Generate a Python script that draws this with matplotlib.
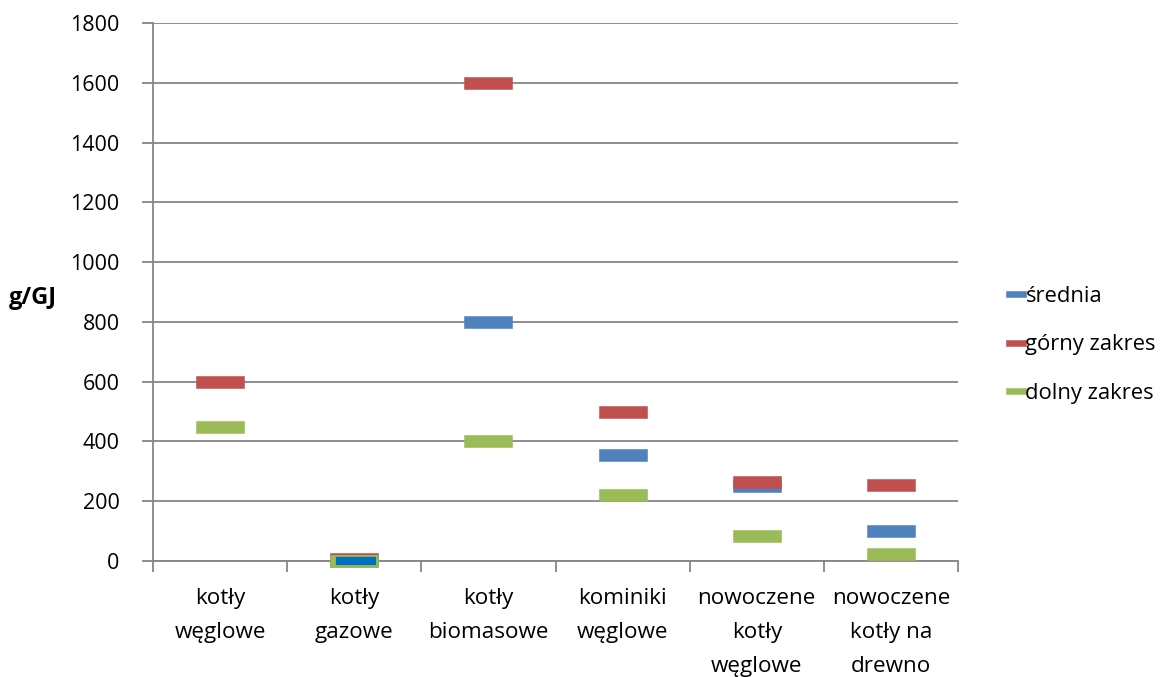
import numpy as np
import matplotlib
matplotlib.use("Agg")
import matplotlib.pyplot as plt
from matplotlib.path import Path

plt.rcParams['font.family'] = ['Open Sans', 'DejaVu Sans']

categories = ["kotły\nwęglowe", "kotły\ngazowe", "kotły\nbiomasowe",
              "kominiki\nwęglowe", "nowoczene\nkotły\nwęglowe",
              "nowoczene\nkotły na\ndrewno"]
srednia = [np.nan, 0, 800, 355, 252, 100]
gorny_zakres = [600, 8, 1600, 500, 263, 255]
dolny_zakres = [450, 0, 400, 220, 82, 25]
yticks = [0, 200, 400, 600, 800, 1000, 1200, 1400, 1600, 1800]

BLUE = "#4F81BD"
RED = "#C0504D"
GREEN = "#9BBB59"
GRID = "#868686"

W, H = 1162, 677
fig = plt.figure(figsize=(W / 100, H / 100), dpi=100)
ax = fig.add_axes([153 / W, 1 - 561 / H, (958 - 153) / W, (561 - 23) / H])

# flat dash marker (4:1 rectangle)
dash = Path([(-2, -0.5), (2, -0.5), (2, 0.5), (-2, 0.5), (-2, -0.5)],
            [Path.MOVETO, Path.LINETO, Path.LINETO, Path.LINETO, Path.CLOSEPOLY])

x = np.arange(len(categories))
ms = 34.5
ax.plot(x, srednia, ls='none', marker=dash, ms=ms, mfc=BLUE, mec=BLUE,
        mew=0.4, zorder=3, clip_on=False, label="średnia")
ax.plot(x, gorny_zakres, ls='none', marker=dash, ms=ms, mfc=RED, mec=RED,
        mew=0.4, zorder=4, clip_on=False, label="górny zakres")
ax.plot(x, dolny_zakres, ls='none', marker=dash, ms=ms, mfc=GREEN, mec=GREEN,
        mew=0.4, zorder=5, clip_on=False, label="dolny zakres")
# the gas boilers' mean point uses its own fill with a green border
ax.plot(x[1:2] + 0.01, srednia[1:2], ls='none', marker=dash, ms=ms - 4,
        mfc="#0070C0", mec=GREEN, mew=1.3, zorder=6, clip_on=False)

ax.set_xlim(-0.5, len(categories) - 0.5)
ax.set_ylim(0, 1800)
ax.set_yticks(yticks)
ax.set_yticklabels([str(v) for v in yticks])
ax.yaxis.grid(True, color=GRID, lw=1.3)
ax.set_axisbelow(True)

ax.set_xticks(np.arange(len(categories) + 1) - 0.5)
ax.set_xticklabels([])
ax.set_xticks(x, minor=True)
ax.set_xticklabels(categories, minor=True, fontsize=16.2, linespacing=1.8)
ax.tick_params(axis='x', which='minor', length=0, pad=19.5)
ax.tick_params(axis='x', which='major', length=8, width=1.3, color=GRID,
               direction='out')
ax.tick_params(axis='y', length=8, width=1.3, color=GRID, direction='out',
               labelsize=15.5, pad=16)

for side in ('top', 'right'):
    ax.spines[side].set_visible(False)
for side in ('left', 'bottom'):
    ax.spines[side].set_color(GRID)
    ax.spines[side].set_linewidth(1.3)

fig.text(9 / W, 1 - 298 / H, "g/GJ", fontsize=17, fontweight='bold',
         va='center', ha='left')

handles, labels = ax.get_legend_handles_labels()
leg = ax.legend(handles, labels, loc='center left',
                bbox_to_anchor=(998 / W, 1 - 345 / H),
                bbox_transform=fig.transFigure, frameon=False,
                fontsize=15.8, markerscale=0.42, handlelength=0.6,
                handletextpad=0.15, labelspacing=1.25, borderpad=0)

fig.savefig("out.png", dpi=100)
